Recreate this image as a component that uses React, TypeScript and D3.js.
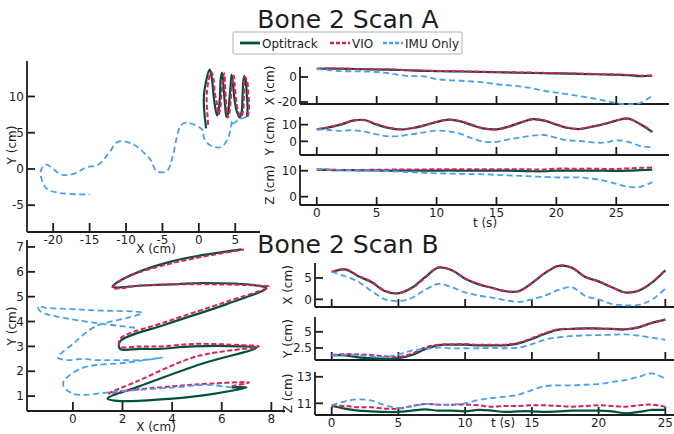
import React, { useEffect, useRef } from "react";
import * as d3 from "d3";

const W = 674;
const H = 434;
const FONT = "'DejaVu Sans', sans-serif";
const INK = "#1e1e1e";

// one sample per second
const timeA = [0, 1, 2, 3, 4, 5, 6, 7, 8, 9, 10, 11, 12, 13, 14, 15, 16, 17, 18, 19, 20, 21, 22, 23, 24, 25, 26, 27, 28];
const optiXA = [6.6, 6.7, 6.6, 6.4, 6.2, 6.0, 5.9, 5.6, 5.2, 4.9, 4.7, 4.5, 4.4, 4.2, 4.0, 3.8, 3.6, 3.4, 3.2, 3.0, 2.9, 2.7, 2.5, 2.2, 2.0, 1.8, 1.5, 0.7, 1.0];
const optiYA = [7.2, 8.4, 10.0, 12.4, 12.8, 10.0, 8.0, 7.1, 8.0, 9.6, 11.6, 13.0, 12.0, 9.6, 7.6, 7.2, 8.8, 11.2, 13.3, 12.4, 10.0, 8.0, 7.4, 8.8, 10.4, 12.4, 13.7, 10.2, 5.6];
const optiZA = [10.4, 10.3, 10.2, 10.2, 10.1, 10.1, 10.0, 10.0, 10.0, 10.0, 10.0, 10.1, 10.0, 10.0, 10.0, 10.0, 10.0, 9.9, 9.8, 9.8, 10.0, 10.0, 10.0, 10.0, 10.0, 9.9, 10.0, 10.2, 10.4];
const vioXA = [6.7, 6.9, 6.8, 6.6, 6.3, 6.2, 6.1, 5.8, 5.4, 5.1, 4.9, 4.8, 4.6, 4.4, 4.2, 4.0, 3.8, 3.6, 3.5, 3.3, 3.1, 2.9, 2.7, 2.5, 2.2, 2.0, 1.7, 1.1, 1.3];
const vioYA = [7.2, 8.5, 10.2, 12.3, 12.7, 10.3, 8.2, 7.2, 7.9, 9.7, 11.8, 12.9, 12.1, 9.8, 7.7, 7.1, 8.7, 11.3, 13.2, 12.5, 10.2, 8.1, 7.5, 8.9, 10.5, 12.5, 13.4, 10.5, 5.9];
const vioZA = [10.5, 10.4, 10.3, 10.3, 10.3, 10.4, 10.4, 10.5, 10.5, 10.5, 10.6, 10.6, 10.6, 10.6, 10.6, 10.6, 10.6, 10.6, 10.5, 10.5, 10.8, 10.8, 10.8, 10.8, 10.7, 10.7, 10.9, 11.1, 11.2];
const imuXA = [6.5, 5.5, 4.7, 4.6, 4.4, 4.0, 3.0, 1.5, 0.7, 0.5, -1.7, -2.5, -3.0, -3.6, -4.4, -5.8, -6.6, -7.6, -9.0, -11.0, -12.5, -13.8, -15.5, -17.0, -18.8, -21.0, -21.7, -20.8, -15.0];
const imuYA = [7.2, 6.8, 6.3, 6.7, 5.8, 4.2, 3.0, 3.3, 4.3, 5.4, 6.4, 6.0, 4.5, 1.7, -0.3, -0.3, 1.2, 2.3, 3.4, 3.8, 2.0, 0.6, 0.2, -0.6, -0.8, 0.6, -0.3, -2.8, -3.5];
const imuZA = [10.6, 10.4, 10.3, 10.2, 10.1, 10.0, 9.8, 9.6, 9.4, 9.2, 9.0, 8.9, 8.8, 8.7, 8.6, 8.4, 8.2, 8.0, 7.8, 7.6, 7.4, 7.4, 7.4, 6.9, 6.2, 4.9, 3.8, 3.8, 5.6];

const timeB = [0, 1, 2, 3, 4, 5, 6, 7, 8, 9, 10, 11, 12, 13, 14, 15, 16, 17, 18, 19, 20, 21, 22, 23, 24, 25];
const optiXB = [6.4, 7.0, 5.4, 4.0, 1.9, 1.4, 2.7, 5.2, 7.4, 6.8, 4.8, 3.5, 2.7, 1.9, 1.9, 3.8, 6.2, 7.8, 7.4, 5.2, 4.2, 2.8, 1.6, 2.0, 3.9, 6.8];
const optiYB = [1.35, 1.35, 1.05, 0.9, 0.8, 0.9, 1.4, 2.3, 2.95, 3.0, 3.0, 2.9, 2.9, 2.9, 3.2, 3.9, 4.7, 5.35, 5.45, 5.55, 5.5, 5.45, 5.4, 5.7, 6.4, 6.9];
const optiZB = [10.8, 10.6, 10.45, 10.4, 10.35, 10.35, 10.45, 10.55, 10.45, 10.45, 10.4, 10.5, 10.45, 10.35, 10.4, 10.4, 10.35, 10.4, 10.45, 10.45, 10.45, 10.4, 10.25, 10.35, 10.5, 10.5];
const vioXB = [6.4, 7.1, 5.5, 4.1, 2.0, 1.45, 2.6, 5.0, 7.5, 6.8, 4.9, 3.6, 2.7, 1.9, 1.9, 3.8, 6.2, 7.9, 7.4, 5.3, 4.2, 2.8, 1.6, 2.1, 4.0, 6.9];
const vioYB = [1.4, 1.55, 1.5, 1.4, 1.2, 1.1, 1.6, 2.6, 3.0, 3.05, 3.1, 3.0, 3.0, 3.0, 3.3, 4.0, 4.8, 5.4, 5.45, 5.5, 5.5, 5.45, 5.35, 5.75, 6.35, 6.9];
const vioZB = [10.85, 10.8, 10.7, 10.7, 10.6, 10.6, 10.8, 10.95, 10.9, 10.9, 10.9, 10.85, 10.75, 10.8, 10.8, 10.85, 10.85, 10.8, 10.75, 10.8, 10.85, 10.8, 10.75, 10.85, 10.9, 10.75];
const imuXB = [6.4, 5.4, 4.1, 1.9, 0.0, -0.4, 0.3, 2.2, 3.6, 2.8, 1.6, 0.9, 0.4, -0.2, -0.6, 0.0, 0.9, 2.2, 2.8, 0.8, 0.0, -1.1, -1.4, -1.3, -0.1, 2.5];
const imuYB = [1.35, 1.45, 1.35, 1.2, 1.1, 1.5, 2.1, 2.35, 2.55, 2.45, 2.45, 2.45, 2.5, 2.45, 2.55, 3.1, 3.8, 4.15, 4.35, 4.45, 4.5, 4.55, 4.6, 4.4, 4.1, 3.75];
const imuZB = [10.85, 11.15, 11.3, 11.2, 10.85, 10.65, 10.75, 10.95, 10.9, 10.9, 11.0, 11.25, 11.4, 11.5, 11.65, 12.0, 12.3, 12.35, 12.35, 12.4, 12.45, 12.6, 12.75, 13.0, 13.25, 12.85];

const legendNames = ["Optitrack", "VIO", "IMU Only"];
const styles = [
  { color: "#00513c", width: 2.2, dash: null },
  { color: "#dc1f5e", width: 2, dash: "5,2.5" },
  { color: "#4a9fee", width: 1.8, dash: "6,3.5" },
];

const scanA = {
  title: "Bone 2 Scan A",
  titleY: 28,
  t: timeA,
  runs: [
    [optiXA, optiYA, optiZA],
    [vioXA, vioYA, vioZA],
    [imuXA, imuYA, imuZA],
  ],
  xy: {
    xDom: [-23.6, 8.4], xRange: [27, 260], yDom: [-8.7, 14.9], yRange: [232, 61],
    xTicks: [-20, -15, -10, -5, 0, 5], yTicks: [-5, 0, 5, 10],
    xLab: [156, 253], yLab: [15.5, 145],
  },
  ts: {
    tDom: [-1.4, 29.4], tRange: [300, 669], tTicks: [0, 5, 10, 15, 20, 25],
    panels: [
      { label: "X (cm)", dom: [-21.6, 8], range: [104, 67], ticks: [-20, 0] },
      { label: "Y (cm)", dom: [-8.2, 14.6], range: [155, 117], ticks: [0, 10] },
      { label: "Z (cm)", dom: [-3.2, 12.2], range: [205, 165], ticks: [0, 10] },
    ],
    yLabX: 274, tLab: [485, 227],
  },
};

const scanB = {
  title: "Bone 2 Scan B",
  titleY: 253,
  t: timeB,
  runs: [
    [optiXB, optiYB, optiZB],
    [vioXB, vioYB, vioZB],
    [imuXB, imuYB, imuZB],
  ],
  xy: {
    xDom: [-1.85, 8.55], xRange: [27, 285], yDom: [0.4, 7.28], yRange: [411, 240],
    xTicks: [0, 2, 4, 6, 8], yTicks: [1, 2, 3, 4, 5, 6, 7],
    xLab: [156, 431], yLab: [15.5, 326],
  },
  ts: {
    tDom: [-1.25, 26.25], tRange: [315, 682], tTicks: [0, 5, 10, 15, 20, 25],
    panels: [
      { label: "X (cm)", dom: [-1.8, 8.5], range: [307, 263], ticks: [0, 5] },
      { label: "Y (cm)", dom: [0.63, 7.3], range: [360, 317], ticks: [2.5, 5] },
      { label: "Z (cm)", dom: [10.12, 13.36], range: [415, 372], ticks: [11, 13] },
    ],
    yLabX: 292, tLab: [503, 427],
  },
};

const text = (g, str, x, y, size, anchor = "middle") =>
  g.append("text")
    .attr("x", x).attr("y", y)
    .attr("font-family", FONT).attr("font-size", size)
    .attr("fill", INK).attr("text-anchor", anchor)
    .text(str);

// left + bottom spines, inward ticks
const frame = (g, x, y, xTicks, yTicks, xLabels, xTickLen) => {
  const [x0, x1] = x.range();
  const [y0, y1] = y.range();
  const line = (ax, ay, bx, by) =>
    g.append("line").attr("x1", ax).attr("y1", ay).attr("x2", bx).attr("y2", by)
      .attr("stroke", INK).attr("stroke-width", 1.8);
  line(x0, y0, x0, y1);
  line(x0, y0, x1, y0);
  xTicks.forEach((v) => {
    line(x(v), y0, x(v), y0 - xTickLen);
    if (xLabels) text(g, String(v), x(v), y0 + 12, 12);
  });
  yTicks.forEach((v) => {
    line(x0, y(v), x0 + 8, y(v));
    text(g, String(v), x0 - 3, y(v), 12, "end").attr("dy", "0.35em");
  });
};

const draw = (svg, scan) => {
  const g = svg.append("g");
  text(g, scan.title, 348, scan.titleY, 25);

  const path = (xs, ys, sx, sy, k) => {
    const idx = xs.map((_, i) => i);
    const gen = d3.line<number>()
      .x((i) => sx(xs[i]))
      .y((i) => sy(ys[i]))
      .curve(d3.curveCatmullRom.alpha(0.5));
    const st = styles[k];
    g.append("path")
      .attr("d", gen(idx))
      .attr("fill", "none")
      .attr("stroke", st.color)
      .attr("stroke-width", st.width)
      .attr("stroke-linejoin", "round")
      .attr("stroke-dasharray", st.dash);
  };

  // trajectory in the XY plane
  const c = scan.xy;
  const x = d3.scaleLinear().domain(c.xDom).range(c.xRange);
  const y = d3.scaleLinear().domain(c.yDom).range(c.yRange);
  frame(g, x, y, c.xTicks, c.yTicks, true, 9);
  scan.runs.forEach((r, k) => path(r[0], r[1], x, y, k));
  text(g, "X (cm)", c.xLab[0], c.xLab[1], 12);
  text(g, "Y (cm)", 0, 0, 12).attr("transform", `translate(${c.yLab[0]},${c.yLab[1]}) rotate(-90)`);

  // coordinates against time
  const s = scan.ts;
  const t = d3.scaleLinear().domain(s.tDom).range(s.tRange);
  s.panels.forEach((p, j) => {
    const py = d3.scaleLinear().domain(p.dom).range(p.range);
    const last = j === s.panels.length - 1;
    frame(g, t, py, s.tTicks, p.ticks, last, 8);
    scan.runs.forEach((r, k) => path(scan.t, r[j], t, py, k));
    const cy = (p.range[0] + p.range[1]) / 2;
    text(g, p.label, 0, 0, 12).attr("transform", `translate(${s.yLabX},${cy}) rotate(-90)`);
  });
  text(g, "t (s)", s.tLab[0], s.tLab[1], 12);
};

const legend = (svg) => {
  const g = svg.append("g");
  g.append("rect")
    .attr("x", 233).attr("y", 32).attr("width", 229).attr("height", 22)
    .attr("rx", 2).attr("fill", "#fff").attr("stroke", "#cccccc").attr("stroke-width", 1.5);
  const xs = [240, 330, 383];
  legendNames.forEach((name, k) => {
    const st = styles[k];
    g.append("line")
      .attr("x1", xs[k]).attr("x2", xs[k] + 20).attr("y1", 43).attr("y2", 43)
      .attr("stroke", st.color).attr("stroke-width", st.width + 0.6)
      .attr("stroke-dasharray", k === 0 ? null : "4,2");
    text(g, name, xs[k] + 22, 47.5, 12, "start");
  });
};

const App = () => {
  const ref = useRef<SVGSVGElement>(null);

  useEffect(() => {
    const svg = d3.select(ref.current);
    svg.selectAll("*").remove();
    draw(svg, scanA);
    draw(svg, scanB);
    legend(svg);
  }, []);

  return (
    <svg
      ref={ref}
      width={W}
      height={H}
      style={{ position: "absolute", left: 0, top: 0, background: "#fff" }}
    />
  );
};

export default App;
